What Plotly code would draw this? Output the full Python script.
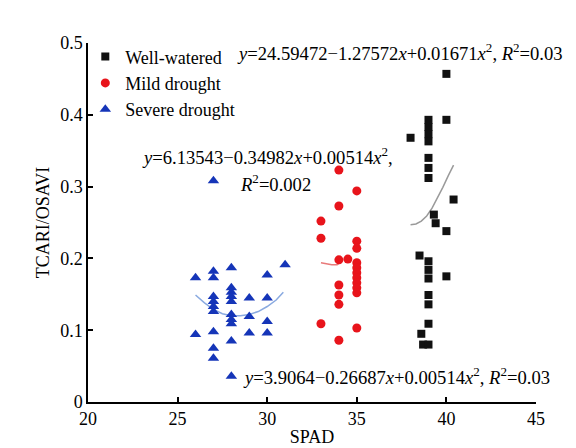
import plotly.graph_objects as go

# Well-watered (black squares)
ww_x = [38.0, 38.5, 38.6, 38.7,
        39, 39, 39, 39, 39, 39, 39, 39, 39, 39, 39, 39, 39, 39,
        39.3, 39.4, 40, 40, 40, 40, 40.4]
ww_y = [0.368, 0.204, 0.095, 0.080,
        0.393, 0.383, 0.373, 0.363, 0.340, 0.326, 0.312, 0.196, 0.184, 0.172, 0.149, 0.136, 0.109, 0.080,
        0.261, 0.249, 0.457, 0.393, 0.238, 0.175, 0.282]

# Mild drought (red circles)
md_x = [33, 33, 33,
        34, 34, 34, 34, 34, 34, 34,
        34.5,
        35, 35, 35, 35, 35, 35, 35, 35, 35, 35, 35]
md_y = [0.252, 0.228, 0.109,
        0.323, 0.273, 0.198, 0.163, 0.149, 0.136, 0.086,
        0.199,
        0.294, 0.224, 0.214, 0.194, 0.187, 0.180, 0.173, 0.166, 0.159, 0.152, 0.103]

# Severe drought (blue triangles)
sd_x = [26, 26,
        27, 27, 27, 27, 27, 27, 27, 27, 27, 27,
        28, 28, 28, 28, 28, 28, 28, 28, 28, 28,
        29, 29, 29,
        30, 30, 30, 30,
        31]
sd_y = [0.173, 0.094,
        0.182, 0.173, 0.147, 0.140, 0.133, 0.126, 0.098, 0.075, 0.061, 0.308,
        0.187, 0.159, 0.153, 0.147, 0.140, 0.122, 0.115, 0.109, 0.085, 0.036,
        0.145, 0.119, 0.096,
        0.177, 0.145, 0.112, 0.096,
        0.191]

# Fitted curves
ww_fit_x = [38.0, 38.3, 38.6, 38.9, 39.2, 39.5, 39.8, 40.1, 40.4]
ww_fit_y = [0.247, 0.248, 0.252, 0.259, 0.270, 0.284, 0.299, 0.315, 0.330]
md_fit_x = [33.0, 33.3, 33.6, 33.9, 34.05, 34.15]
md_fit_y = [0.194, 0.192, 0.191, 0.191, 0.194, 0.200]
sd_fit_x = [26.0, 26.5, 27.0, 27.5, 28.0, 28.5, 29.0, 29.5, 30.0, 30.5, 30.9]
sd_fit_y = [0.149, 0.138, 0.129, 0.123, 0.120, 0.120, 0.122, 0.126, 0.133, 0.142, 0.153]

FONT = "Liberation Serif, Times New Roman, serif"

fig = go.Figure()
fig.add_trace(go.Scatter(x=ww_fit_x, y=ww_fit_y, mode="lines", line=dict(color="#9a9a9a", width=1.5),
                         showlegend=False, hoverinfo="skip"))
fig.add_trace(go.Scatter(x=md_fit_x, y=md_fit_y, mode="lines", line=dict(color="#e87a7a", width=1.5),
                         showlegend=False, hoverinfo="skip"))
fig.add_trace(go.Scatter(x=sd_fit_x, y=sd_fit_y, mode="lines", line=dict(color="#8aaae0", width=1.5),
                         showlegend=False, hoverinfo="skip"))

fig.add_trace(go.Scatter(x=ww_x, y=ww_y, mode="markers", name="Well-watered",
                         marker=dict(symbol="square", size=8, color="#111111")))
fig.add_trace(go.Scatter(x=md_x, y=md_y, mode="markers", name="Mild drought",
                         marker=dict(symbol="circle", size=9, color="#e8141b")))
fig.add_trace(go.Scatter(x=sd_x, y=sd_y, mode="markers", name="Severe drought",
                         marker=dict(symbol="triangle-up", size=10, color="#1535b8")))

ann_font = dict(family=FONT, size=18.6, color="black")
fig.add_annotation(xref="x", yref="y", x=37.4, y=0.487, xanchor="center", yanchor="middle", showarrow=False,
                   text="<i>y</i>=24.59472\u22121.27572<i>x</i>+0.01671<i>x</i><sup>2</sup>, <i>R</i><sup>2</sup>=0.03",
                   font=ann_font)
fig.add_annotation(xref="x", yref="y", x=30.0, y=0.343, xanchor="center", yanchor="middle", showarrow=False,
                   text="<i>y</i>=6.13543\u22120.34982<i>x</i>+0.00514<i>x</i><sup>2</sup>,",
                   font=ann_font)
fig.add_annotation(xref="x", yref="y", x=30.45, y=0.305, xanchor="center", yanchor="middle", showarrow=False,
                   text="<i>R</i><sup>2</sup>=0.002", font=ann_font)
fig.add_annotation(xref="x", yref="y", x=37.2, y=0.036, xanchor="center", yanchor="middle", showarrow=False,
                   text="<i>y</i>=3.9064\u22120.26687<i>x</i>+0.00514<i>x</i><sup>2</sup>, <i>R</i><sup>2</sup>=0.03",
                   font=ann_font)

fig.update_layout(
    width=576, height=448,
    margin=dict(l=80, r=48, t=35, b=54, autoexpand=False),
    paper_bgcolor="white", plot_bgcolor="white",
    font=dict(family=FONT, size=18, color="black"),
    legend=dict(x=-0.006, y=1.013, xanchor="left", yanchor="top", bgcolor="rgba(0,0,0,0)",
                font=dict(family=FONT, size=18), itemwidth=30, tracegroupgap=0),
    xaxis=dict(range=[20, 45], tickvals=[20, 25, 30, 35, 40, 45], showline=True, linecolor="black", linewidth=1.5,
               ticks="inside", ticklen=5, tickcolor="black", tickwidth=1.5, showgrid=False, zeroline=False,
               automargin=False,
               title=dict(text="SPAD", font=dict(family=FONT, size=18), standoff=2),
               tickfont=dict(family=FONT, size=18)),
    yaxis=dict(range=[0, 0.5], tickvals=[0, 0.1, 0.2, 0.3, 0.4, 0.5], showline=True, linecolor="black", linewidth=1.5,
               ticks="inside", ticklen=5, tickcolor="black", tickwidth=1.5, showgrid=False, zeroline=False,
               automargin=False,
               title=dict(text="TCARI/OSAVI", font=dict(family=FONT, size=18), standoff=6),
               tickfont=dict(family=FONT, size=18)),
)

fig.write_html("out.html")
